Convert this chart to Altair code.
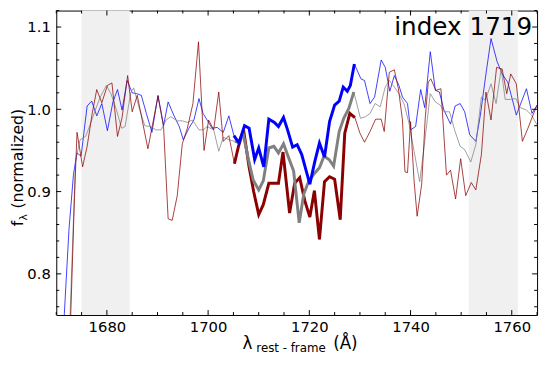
import altair as alt
import pandas as pd

# ---------------- data ----------------
BLUE_X = [1670.7, 1671.6, 1672.5, 1673.4, 1674.1, 1674.9, 1676.1, 1677.0, 1678.0, 1679.0,
          1680.1, 1681.2, 1682.1, 1683.0, 1684.0, 1685.0, 1685.9, 1686.8, 1687.8, 1688.9,
          1690.1, 1691.2, 1692.1, 1693.2, 1694.3, 1695.1, 1696.2, 1697.2, 1698.2, 1699.0,
          1699.9, 1700.8, 1701.8, 1703.0, 1704.1, 1705.1, 1706.1, 1707.2, 1708.1, 1709.2,
          1710.0, 1711.0, 1712.0, 1713.1, 1713.9, 1714.9, 1715.7, 1716.7, 1717.6, 1718.5,
          1720.1, 1721.1, 1722.0, 1723.0, 1724.0, 1725.0, 1725.9, 1726.7, 1727.5, 1728.1,
          1728.9, 1730.2, 1730.9, 1732.0, 1732.9, 1734.2, 1735.0, 1735.9, 1736.8, 1737.7,
          1738.4, 1739.4, 1740.0, 1741.0, 1742.0, 1742.8, 1743.9, 1744.9, 1745.7, 1746.6,
          1747.9, 1748.8, 1749.8, 1750.7, 1751.7, 1752.9, 1753.8, 1754.9, 1755.9, 1757.1,
          1758.1, 1759.2, 1759.9, 1760.9, 1761.9, 1762.9, 1764.0, 1765.0]
BLUE_Y = [0.680, 0.752, 0.853, 0.921, 0.947, 0.943, 1.004, 1.010, 0.992, 1.007,
          0.974, 1.009, 1.024, 0.999, 1.035, 1.020, 1.019, 1.017, 0.995, 0.972,
          1.017, 0.980, 1.009, 0.993, 0.979, 0.963, 0.977, 0.987, 1.013, 0.995,
          0.986, 0.977, 0.978, 0.972, 0.992, 0.968, 0.959, 0.980, 0.977, 0.939,
          0.953, 0.930, 0.988, 0.984, 0.979, 0.990, 0.975, 0.954, 0.957, 0.945,
          0.909, 0.937, 0.959, 0.942, 0.985, 1.005, 1.010, 1.027, 1.022, 1.029,
          1.055, 1.037, 1.035, 1.007, 1.015, 1.060, 1.051, 1.022, 1.041, 1.029,
          1.015, 1.007, 0.975, 0.979, 1.024, 1.002, 1.070, 1.023, 1.021, 0.999,
          0.982, 1.004, 1.007, 0.997, 0.969, 0.961, 0.993, 1.043, 1.086, 1.058,
          1.043, 1.033, 1.017, 0.993, 1.009, 1.025, 0.995, 1.005]

GRAY_X = [1672.5, 1673.8, 1674.7, 1675.8, 1676.8, 1677.7, 1678.7, 1679.9, 1680.8, 1681.9,
          1682.9, 1683.6, 1684.7, 1685.3, 1686.0, 1686.5, 1687.5, 1688.6, 1689.7, 1690.7,
          1691.7, 1692.6, 1693.9, 1694.9, 1695.9, 1696.9, 1698.2, 1699.0, 1699.8, 1701.1,
          1702.1, 1703.0, 1704.1, 1705.3, 1706.0, 1706.9, 1707.9, 1708.9, 1710.0, 1710.9,
          1712.0, 1713.0, 1713.9, 1714.9, 1715.8, 1716.9, 1718.0, 1718.9, 1719.9, 1721.0,
          1722.0, 1722.9, 1723.9, 1724.8, 1725.9, 1726.8, 1727.8, 1728.8, 1730.1, 1731.1,
          1732.0, 1733.0, 1734.0, 1735.0, 1735.8, 1736.8, 1737.7, 1738.7, 1739.7, 1740.7,
          1741.8, 1742.6, 1743.9, 1744.9, 1745.9, 1746.6, 1747.7, 1748.8, 1749.8, 1750.7,
          1751.9, 1752.9, 1754.0, 1754.8, 1755.9, 1756.9, 1757.9, 1758.7, 1759.7, 1760.8,
          1761.7, 1762.9, 1763.9, 1765.0]
GRAY_Y = [0.710, 0.937, 0.963, 0.967, 0.983, 0.999, 1.015, 1.029, 1.019, 0.999,
          0.977, 0.979, 1.020, 1.026, 1.010, 0.999, 0.980, 0.979, 0.975, 0.975,
          0.987, 0.991, 0.986, 0.986, 0.984, 0.987, 0.975, 0.975, 0.979, 0.975,
          0.949, 0.966, 0.963, 0.961, 0.960, 0.971, 0.941, 0.914, 0.902, 0.913,
          0.953, 0.955, 0.947, 0.958, 0.943, 0.925, 0.862, 0.897, 0.913, 0.922,
          0.929, 0.943, 0.939, 0.931, 0.973, 0.989, 1.001, 1.021, 0.989, 0.991,
          0.995, 1.007, 1.003, 1.027, 1.035, 1.027, 1.019, 1.007, 0.983, 0.949,
          0.912, 0.950, 1.019, 1.009, 1.005, 0.997, 0.997, 0.973, 0.955, 0.951,
          0.936, 0.957, 1.015, 1.011, 1.031, 1.007, 1.049, 1.012, 1.012, 1.013,
          1.002, 0.999, 0.993, 0.981]

RED_X = [1672.6, 1673.6, 1674.1, 1675.2, 1676.1, 1677.1, 1678.0, 1679.0, 1680.1, 1681.0,
         1682.1, 1683.0, 1684.1, 1685.0, 1686.0, 1688.1, 1690.1, 1691.2, 1692.1, 1692.9,
         1693.9, 1694.9, 1695.9, 1697.0, 1698.1, 1699.2, 1700.1, 1701.1, 1702.1, 1703.0,
         1704.1, 1705.2, 1706.0, 1707.0, 1708.1, 1709.0, 1710.0, 1710.9, 1712.0, 1712.9,
         1713.9, 1714.8, 1716.1, 1717.1, 1718.1, 1719.1, 1720.1, 1721.0, 1722.0, 1723.0,
         1724.0, 1725.0, 1726.1, 1727.0, 1728.0, 1729.0, 1730.0, 1730.9, 1732.0, 1733.1,
         1734.2, 1734.8, 1735.8, 1736.8, 1737.6, 1738.4, 1738.9, 1739.4, 1740.0, 1740.7,
         1741.3, 1742.2, 1742.9, 1743.5, 1744.0, 1745.0, 1746.0, 1747.1, 1747.9, 1748.9,
         1749.9, 1750.9, 1752.0, 1752.9, 1754.0, 1754.9, 1755.9, 1757.0, 1758.1, 1759.0,
         1759.8, 1760.9, 1762.1, 1763.2, 1764.2, 1765.0]
RED_Y = [0.700, 0.893, 0.972, 0.930, 0.955, 0.995, 1.024, 1.008, 1.029, 1.032,
         0.967, 0.990, 1.041, 0.997, 1.017, 0.952, 1.016, 0.979, 0.867, 0.865,
         0.895, 0.958, 0.977, 1.007, 1.082, 0.950, 0.987, 0.975, 1.021, 0.961,
         0.968, 0.934, 0.955, 0.975, 0.930, 0.900, 0.872, 0.884, 0.910, 0.910,
         0.910, 0.948, 0.874, 0.910, 0.917, 0.889, 0.869, 0.901, 0.842, 0.912,
         0.918, 0.915, 0.866, 0.971, 0.995, 0.990, 0.971, 0.960, 0.973, 0.988,
         0.988, 0.973, 1.045, 1.048, 1.025, 0.987, 0.924, 0.923, 0.985, 0.913,
         0.870, 0.909, 0.989, 1.033, 1.037, 1.023, 1.025, 0.920, 0.926, 0.891,
         0.940, 0.895, 0.911, 0.902, 0.945, 1.021, 0.987, 1.051, 1.049, 1.019,
         1.043, 1.031, 0.961, 0.977, 0.993, 1.005]

BAND_START = [1675.0, 1751.5]
BAND_END = [1684.5, 1761.2]
FEATURE_RANGE = [1705.0, 1729.1]

X_DOMAIN = [1670, 1765]
Y_DOMAIN = [0.75, 1.12]
X_LABELS = [1680, 1700, 1720, 1740, 1760]
X_MINOR = [1670, 1675, 1685, 1690, 1695, 1705, 1710, 1715, 1725, 1730, 1735,
           1745, 1750, 1755, 1765]
Y_LABELS = [0.8, 0.9, 1.0, 1.1]
Y_MINOR = [0.76, 0.78, 0.82, 0.84, 0.86, 0.88, 0.92, 0.94, 0.96, 0.98,
           1.02, 1.04, 1.06, 1.08, 1.12]

TITLE_TEXT = "index 1719"
XT_MAIN = "λ"
XT_SUB = "rest - frame"
XT_UNIT = "(Å)"
YT_MAIN = "f"
YT_SUB = "λ"
YT_REST = "(normalized)"

# ---------------- layout ----------------
W, H = 488, 309
FONT = "DejaVu Sans"

xs = alt.Scale(domain=X_DOMAIN, nice=False, zero=False)
ys = alt.Scale(domain=Y_DOMAIN, nice=False, zero=False)
x_axis = alt.Axis(values=X_LABELS, format="d", title=None, ticks=False, domain=False,
                  grid=False, labelFontSize=15, labelFont=FONT, labelColor="black",
                  labelPadding=5)
y_axis = alt.Axis(values=Y_LABELS, format=".1f", title=None, ticks=False, domain=False,
                  grid=False, labelFontSize=15, labelFont=FONT, labelColor="black",
                  labelPadding=6)


def series_df(xv, yv):
    return pd.DataFrame({"x": xv, "y": yv})


bands = alt.Chart(pd.DataFrame({"s": BAND_START, "e": BAND_END})).mark_rect(
    color="#f0f0f0").encode(
    x=alt.X("s:Q", scale=xs, axis=x_axis), x2="e:Q",
    y=alt.value(0), y2=alt.value(H))


def thin(xv, yv, color):
    return alt.Chart(series_df(xv, yv)).mark_line(
        color=color, strokeWidth=1, opacity=0.75, clip=True).encode(
        x=alt.X("x:Q", scale=xs, axis=x_axis), y=alt.Y("y:Q", scale=ys, axis=y_axis))


def thick(xv, yv, color):
    return alt.Chart(series_df(xv, yv)).transform_filter(
        alt.FieldRangePredicate(field="x", range=FEATURE_RANGE)).mark_line(
        color=color, strokeWidth=3, clip=True).encode(
        x=alt.X("x:Q", scale=xs, axis=x_axis), y=alt.Y("y:Q", scale=ys, axis=y_axis))


def xticks(vals, length):
    d = pd.DataFrame({"v": vals})
    b = alt.Chart(d).mark_rule(color="black", strokeWidth=1).encode(
        x=alt.X("v:Q", scale=xs, axis=x_axis), y=alt.value(H), y2=alt.value(H - length))
    t = alt.Chart(d).mark_rule(color="black", strokeWidth=1).encode(
        x=alt.X("v:Q", scale=xs, axis=x_axis), y=alt.value(0), y2=alt.value(length))
    return [b, t]


def yticks(vals, length):
    d = pd.DataFrame({"v": vals})
    l = alt.Chart(d).mark_rule(color="black", strokeWidth=1).encode(
        y=alt.Y("v:Q", scale=ys, axis=y_axis), x=alt.value(0), x2=alt.value(length))
    r = alt.Chart(d).mark_rule(color="black", strokeWidth=1).encode(
        y=alt.Y("v:Q", scale=ys, axis=y_axis), x=alt.value(W), x2=alt.value(W - length))
    return [l, r]


def label(text, x, y, size, align="left", angle=0):
    kw = dict(align=align, baseline="alphabetic", fontSize=size, font=FONT, color="black")
    if angle:
        kw["angle"] = angle
    return alt.Chart(pd.DataFrame({"t": [text]})).mark_text(**kw).encode(
        text="t:N", x=alt.value(x), y=alt.value(y))


layers = [bands,
          thin(BLUE_X, BLUE_Y, "#0000ff"),
          thin(GRAY_X, GRAY_Y, "#808080"),
          thin(RED_X, RED_Y, "#8b0000"),
          thick(RED_X, RED_Y, "#8b0000"),
          thick(GRAY_X, GRAY_Y, "#808080"),
          thick(BLUE_X, BLUE_Y, "#0000ff")]
layers += xticks(X_LABELS, 5) + xticks(X_MINOR, 3)
layers += yticks(Y_LABELS, 5) + yticks(Y_MINOR, 3)
layers += [
    label(TITLE_TEXT, W - 5, 25, 25, align="right"),
    label(XT_MAIN, 189, 344, 17),
    label(XT_SUB, 203, 347, 12),
    label(XT_UNIT, 281, 344, 17),
    label(YT_MAIN, -34, 219, 16, angle=270),
    label(YT_SUB, -30, 213, 11, angle=270),
    label(YT_REST, -34, 201, 16, angle=270),
]

chart = alt.layer(*layers).properties(
    width=W, height=H,
    autosize=alt.AutoSizeParams(type="none"),
    padding={"left": 49, "top": 0, "right": 5, "bottom": 38},
).configure_view(stroke="black", strokeWidth=1)

chart.save("out.html", embed_options={"renderer": "svg", "actions": False})
